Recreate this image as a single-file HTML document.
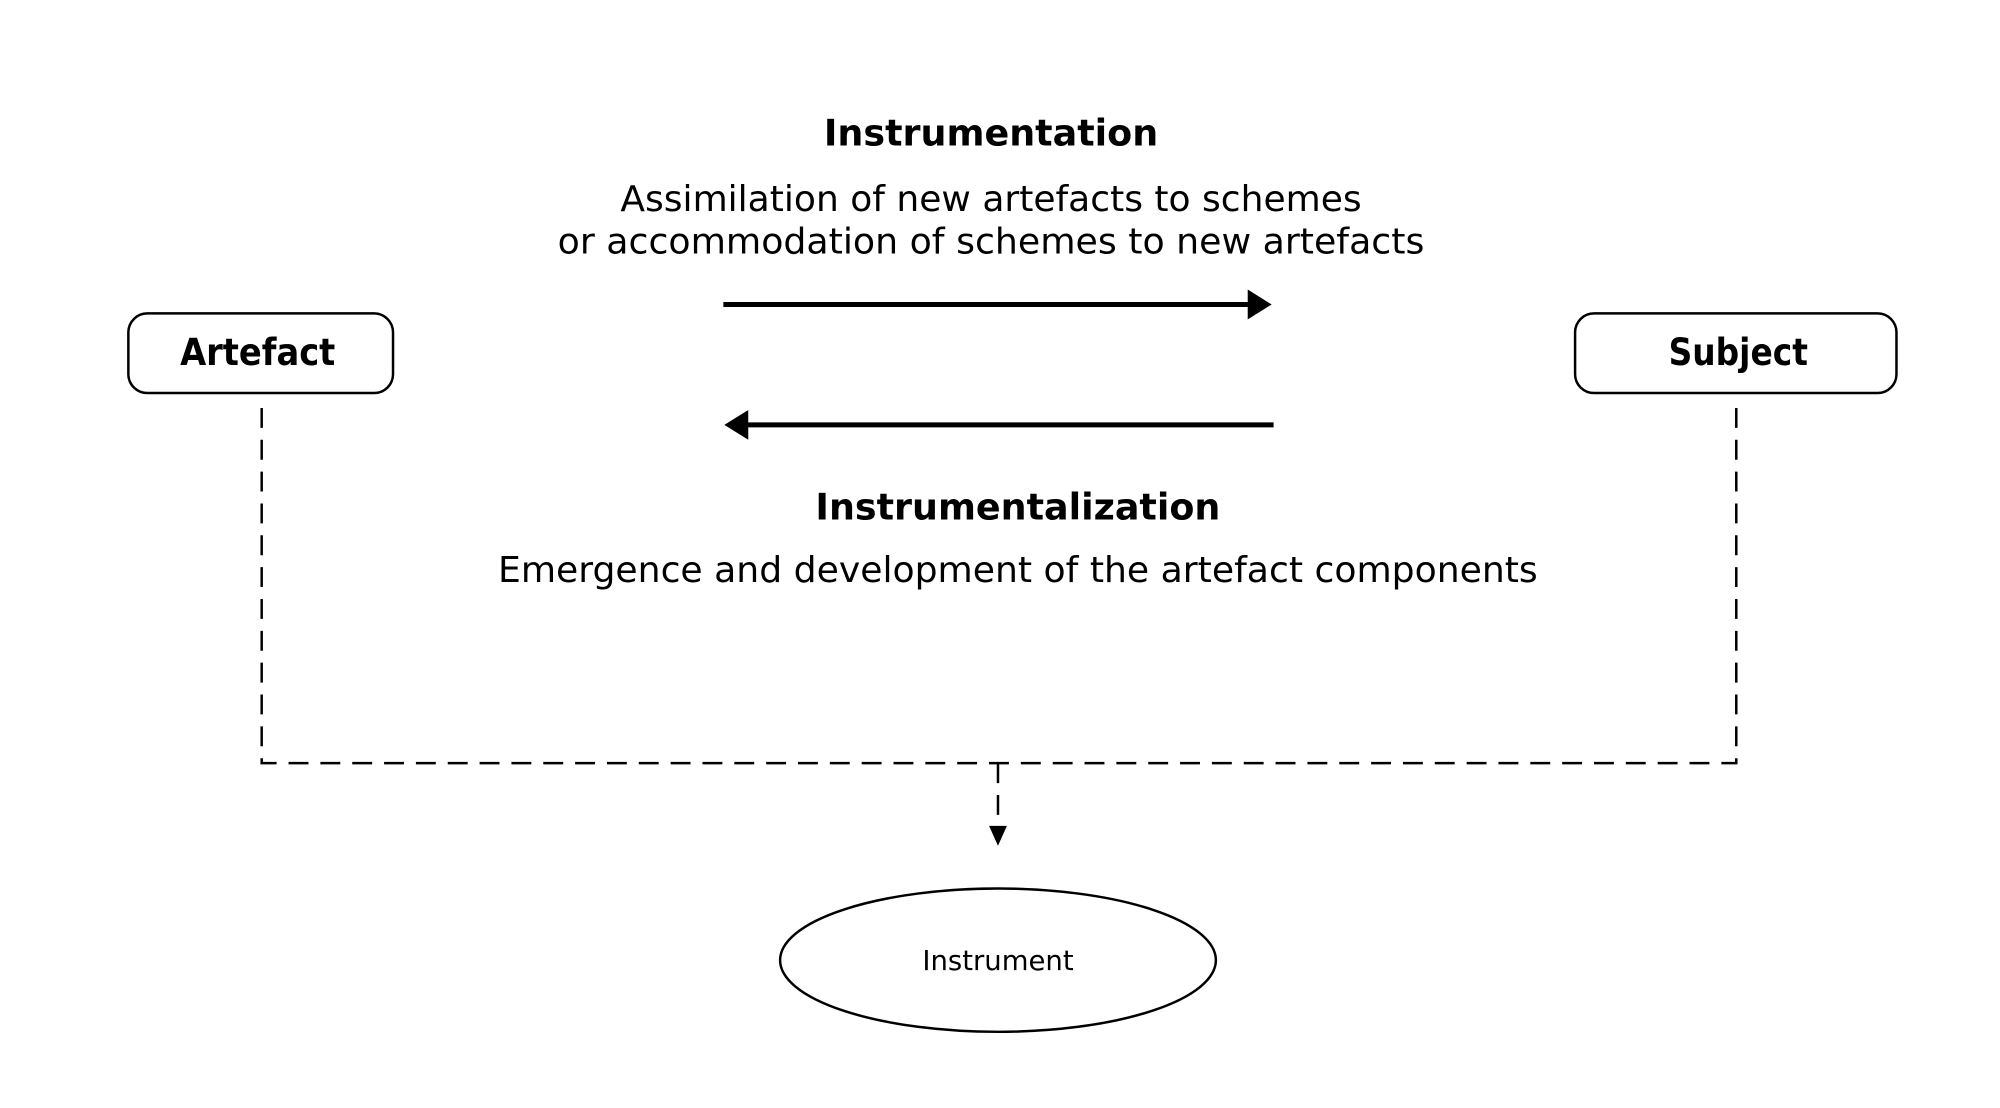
<!DOCTYPE html>
<html><head><meta charset="utf-8"><style>
html,body{margin:0;padding:0;background:#fff;}
svg{display:block;}
text{font-family:"DejaVu Sans","Liberation Sans",sans-serif;fill:#000;}
</style></head><body>
<svg width="2000" height="1108" viewBox="0 0 2000 1108" xmlns="http://www.w3.org/2000/svg">
<rect width="2000" height="1108" fill="#fff"/>
<g transform="scale(0.995)">
<text x="996" y="146" text-anchor="middle" font-size="37" font-weight="bold" textLength="336" lengthAdjust="spacingAndGlyphs">Instrumentation</text>
<text x="996" y="212" text-anchor="middle" font-size="36" textLength="745" lengthAdjust="spacingAndGlyphs">Assimilation of new artefacts to schemes</text>
<text x="996" y="255" text-anchor="middle" font-size="36" textLength="871" lengthAdjust="spacingAndGlyphs">or accommodation of schemes to new artefacts</text>
<line x1="727" y1="306" x2="1258" y2="306" stroke="#000" stroke-width="5"/>
<polygon points="1278,306 1254,291 1254,321" fill="#000"/>
<line x1="748" y1="427" x2="1280" y2="427" stroke="#000" stroke-width="5"/>
<polygon points="728,427 752,412 752,442" fill="#000"/>
<rect x="129" y="315" width="266" height="80" rx="19" fill="#fff" stroke="#000" stroke-width="2.5"/>
<text x="259" y="367" text-anchor="middle" font-size="38" font-weight="bold" textLength="156" lengthAdjust="spacingAndGlyphs">Artefact</text>
<rect x="1583" y="315" width="323" height="80" rx="19" fill="#fff" stroke="#000" stroke-width="2.5"/>
<text x="1747" y="367" text-anchor="middle" font-size="38" font-weight="bold" textLength="140" lengthAdjust="spacingAndGlyphs">Subject</text>
<text x="1023" y="522" text-anchor="middle" font-size="37" font-weight="bold" textLength="407" lengthAdjust="spacingAndGlyphs">Instrumentalization</text>
<text x="1023" y="585" text-anchor="middle" font-size="36" textLength="1045" lengthAdjust="spacingAndGlyphs">Emergence and development of the artefact components</text>
<g fill="none" stroke="#000" stroke-width="2.5" stroke-dasharray="20,12">
<path d="M263 410 V767 H1745 V410"/>
<path d="M1003 767 V835"/>
</g>
<polygon points="1003,850 994,830 1012,830" fill="#000"/>
<ellipse cx="1003" cy="965" rx="219" ry="72" fill="#fff" stroke="#000" stroke-width="2.5"/>
<text x="1003" y="975" text-anchor="middle" font-size="28" textLength="152" lengthAdjust="spacingAndGlyphs">Instrument</text>
</g>
</svg>
</body></html>
